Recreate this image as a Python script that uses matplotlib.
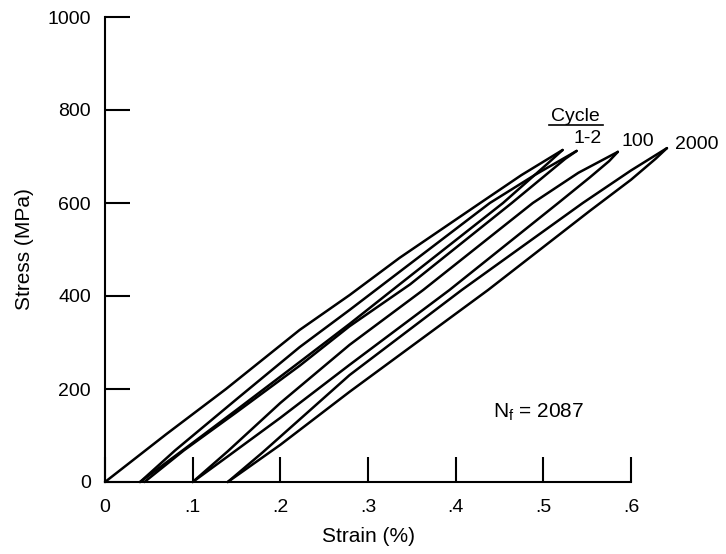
import matplotlib
matplotlib.use("Agg")
import matplotlib.pyplot as plt

plt.rcParams['font.family'] = ['Liberation Sans', 'DejaVu Sans']
plt.rcParams['mathtext.fontset'] = 'custom'
plt.rcParams['mathtext.rm'] = 'Liberation Sans'
plt.rcParams['mathtext.it'] = 'Liberation Sans'

# hysteresis loops: strain (%) / stress (MPa)
# cycle 1 loading and unloading
c1_load_strain = [0, 0.07, 0.138, 0.222, 0.279, 0.336, 0.428, 0.475, 0.522]
c1_load_stress = [0, 103, 200, 327, 402, 482, 600, 660, 714]
c1_unload_strain = [0.522, 0.505, 0.454, 0.336, 0.279, 0.222, 0.15, 0.09, 0.04]
c1_unload_stress = [714, 685, 600, 425, 340, 258, 155, 70, 0]

# cycle 2
c2_load_strain = [0.04, 0.08, 0.15, 0.222, 0.279, 0.336, 0.439, 0.49, 0.538]
c2_load_stress = [0, 68, 178, 290, 370, 452, 600, 660, 712]
c2_unload_strain = [0.538, 0.525, 0.464, 0.348, 0.279, 0.222, 0.15, 0.09, 0.045]
c2_unload_stress = [712, 695, 600, 425, 335, 250, 150, 68, 0]

# cycle 100
c100_load_strain = [0.1, 0.14, 0.2, 0.279, 0.363, 0.488, 0.54, 0.585]
c100_load_stress = [0, 66, 170, 295, 413, 600, 665, 710]
c100_unload_strain = [0.585, 0.575, 0.553, 0.517, 0.393, 0.279, 0.2, 0.14, 0.1]
c100_unload_stress = [710, 690, 655, 600, 413, 252, 138, 55, 0]

# cycle 2000
c2000_load_strain = [0.14, 0.18, 0.279, 0.407, 0.545, 0.6, 0.641]
c2000_load_stress = [0, 64, 230, 413, 600, 670, 718]
c2000_unload_strain = [0.641, 0.628, 0.6, 0.553, 0.437, 0.279, 0.2, 0.14]
c2000_unload_stress = [718, 695, 650, 583, 413, 194, 80, 0]

branches = [
    (c1_load_strain, c1_load_stress), (c1_unload_strain, c1_unload_stress),
    (c2_load_strain, c2_load_stress), (c2_unload_strain, c2_unload_stress),
    (c100_load_strain, c100_load_stress), (c100_unload_strain, c100_unload_stress),
    (c2000_load_strain, c2000_load_stress), (c2000_unload_strain, c2000_unload_stress),
]

x_ticks = [0, 0.1, 0.2, 0.3, 0.4, 0.5, 0.6]
x_tick_labels = ['0', '.1', '.2', '.3', '.4', '.5', '.6']
y_ticks = [0, 200, 400, 600, 800, 1000]
y_tick_labels = ['0', '200', '400', '600', '800', '1000']

fig = plt.figure(figsize=(7.26, 5.54), dpi=100)
ax = fig.add_axes([105 / 726, 1 - 482 / 554, 526 / 726, 465 / 554])

for xs, ys in branches:
    ax.plot(xs, ys, color='black', lw=1.8, solid_joinstyle='round',
            solid_capstyle='round', clip_on=False)

ax.set_xlim(0, 0.6)
ax.set_ylim(0, 1000)
ax.set_xticks(x_ticks)
ax.set_xticklabels(x_tick_labels)
ax.set_yticks(y_ticks)
ax.set_yticklabels(y_tick_labels)

for side in ['top', 'right']:
    ax.spines[side].set_visible(False)
for side in ['left', 'bottom']:
    ax.spines[side].set_linewidth(1.5)

ax.tick_params(axis='both', direction='in', length=18, width=1.5, labelsize=14)
ax.tick_params(axis='x', pad=12)
ax.tick_params(axis='y', pad=10)

ax.set_xlabel('Strain (%)', fontsize=15, labelpad=8)
ax.set_ylabel('Stress (MPa)', fontsize=15, labelpad=10)

# cycle labels
ax.text(0.537, 787, 'Cycle', fontsize=14, ha='center', va='center')
ax.plot([0.506, 0.568], [767, 767], color='black', lw=1.2, clip_on=False)
ax.text(0.551, 738, '1-2', fontsize=14, ha='center', va='center')
ax.text(0.608, 733, '100', fontsize=14, ha='center', va='center')
ax.text(0.675, 725, '2000', fontsize=14, ha='center', va='center')
ax.text(0.443, 150, r'N$_\mathrm{f}$ = 2087', fontsize=15, ha='left', va='center')

fig.savefig('out.png', dpi=100)
